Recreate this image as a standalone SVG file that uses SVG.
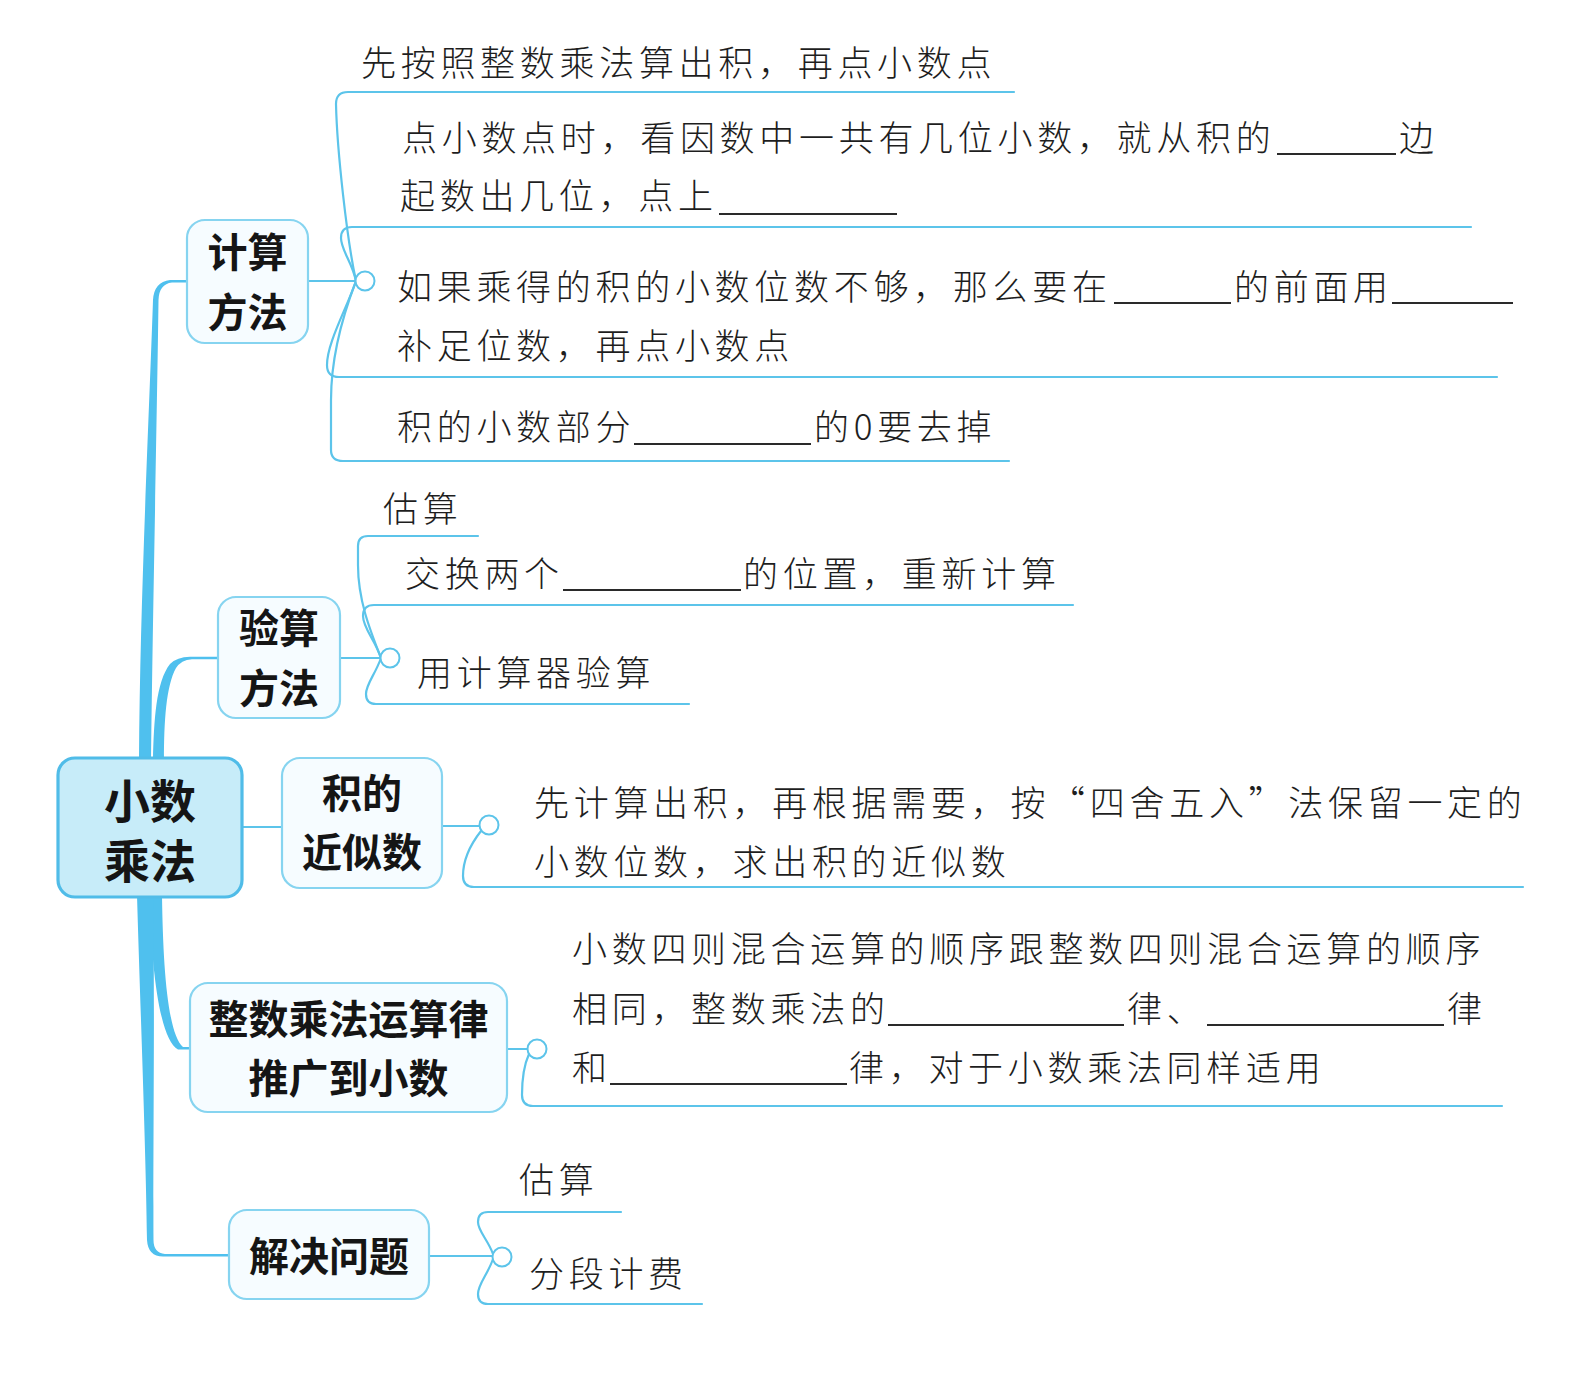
<svg xmlns="http://www.w3.org/2000/svg" width="1595" height="1397" viewBox="0 0 1595 1397">
<style>
.bg{fill:#ffffff}
.trunk{fill:#4fc0ee;stroke:none}
.conn{fill:none;stroke:#5cc4ea;stroke-width:2.2;stroke-linecap:round}
.dot{fill:#ffffff;stroke:#5cc4ea;stroke-width:2}
.box{fill:#f6fcff;stroke:#86d4f0;stroke-width:2.2}
.root{fill:#c7ecf9;stroke:#50bce8;stroke-width:3.2}
.n{font-family:"Noto Sans CJK SC","Noto Sans CJK TC",sans-serif;font-weight:700;font-size:40px;fill:#151515;text-anchor:middle}
.rt{font-size:46px}
.t{font-family:"Noto Sans CJK SC","Noto Sans CJK TC",sans-serif;font-weight:300;font-size:35px;letter-spacing:4.7px;fill:#1e1e1e}
.blank{stroke:#2a2a2a;stroke-width:1.8}
</style>
<rect class="bg" x="0" y="0" width="1595" height="1397"/>

<g id="connectors">
  <path class="trunk" d="M139 760 C140 600 149 420 153 300 Q154 282 170 280 L187 280 L187 282.5 L172 282.5 Q159 284 158.5 300 C157 420 153 600 151 760 Z"/>
  <path class="trunk" d="M153 760 C154 720 156 682 170 664 Q177 657 190 656.8 L218 656.8 L218 659.2 L192 659.2 Q181 660 176 668 C166 686 164 722 164 760 Z"/>
  <path class="trunk" d="M150 895 C151 970 160 1040 178 1049.5 L190 1049.5 L190 1047 L183 1047 C168 1034 163 970 162 895 Z"/>
  <path class="trunk" d="M137 895 C140 1000 146 1150 147 1240 Q148 1256.5 163 1256.5 L230 1256.5 L230 1254 L165 1254 Q153.5 1253 153.5 1240 C153 1150 155 1000 153 895 Z"/>
  <line class="conn" x1="242" y1="827" x2="282" y2="827"/>

  <line class="conn" x1="308" y1="281" x2="355.5" y2="281"/>
  <path class="conn" d="M356 281 C347 240 337 150 336 104 Q336 92 348 92 L1014 92"/>
  <path class="conn" d="M356 281 C352 262 341 250 341 238 Q341 227 352 227 L1471 227"/>
  <path class="conn" d="M356 281 C346 310 327 343 327 365 Q327 377 339 377 L1497 377"/>
  <path class="conn" d="M356 281 C341 320 331 360 331 400 L331 450 Q331 461 343 461 L1009 461"/>
  <circle class="dot" cx="365" cy="281" r="9.5"/>

  <line class="conn" x1="340" y1="658" x2="380.5" y2="658"/>
  <path class="conn" d="M381 658 C370 630 358 600 358 565 L358 546 Q358 536 368 536 L478 536"/>
  <path class="conn" d="M381 658 C375 640 363 628 363 616 Q363 605 374 605 L1073 605"/>
  <path class="conn" d="M381 658 C375 675 366 684 366 694 Q366 704 376 704 L689 704"/>
  <circle class="dot" cx="390" cy="658" r="9.5"/>

  <line class="conn" x1="442" y1="826" x2="479.5" y2="826"/>
  <path class="conn" d="M481 831 C470 845 463 860 463 876 Q463 887 474 887 L1523 887"/>
  <circle class="dot" cx="489" cy="825" r="9.5"/>

  <line class="conn" x1="507" y1="1049" x2="527.5" y2="1049"/>
  <path class="conn" d="M529 1054 C524 1065 522 1080 522 1095 Q522 1106 533 1106 L1502 1106"/>
  <circle class="dot" cx="537" cy="1049" r="9.5"/>

  <line class="conn" x1="429" y1="1256" x2="492.5" y2="1256"/>
  <path class="conn" d="M493 1254 C488 1240 478 1231 478 1222 Q478 1212 488 1212 L621 1212"/>
  <path class="conn" d="M493 1259 C488 1274 478 1284 478 1294 Q478 1304 488 1304 L702 1304"/>
  <circle class="dot" cx="502" cy="1257" r="9.5"/>
</g>

<g id="node-root">
  <rect class="root" x="58" y="758" width="184" height="139" rx="17"/>
  <text class="n rt" x="150" y="818">小数</text>
  <text class="n rt" x="150" y="878">乘法</text>
</g>

<g id="node-jisuan">
  <rect class="box" x="187" y="220" width="121" height="123" rx="18"/>
  <text class="n" x="247.5" y="267">计算</text>
  <text class="n" x="247.5" y="327">方法</text>
</g>

<g id="node-yansuan">
  <rect class="box" x="218" y="597" width="122" height="121" rx="18"/>
  <text class="n" x="279" y="643">验算</text>
  <text class="n" x="279" y="703">方法</text>
</g>

<g id="node-jinsi">
  <rect class="box" x="282" y="758" width="160" height="130" rx="18"/>
  <text class="n" x="362" y="808">积的</text>
  <text class="n" x="362" y="867">近似数</text>
</g>

<g id="node-yunsuanlv">
  <rect class="box" x="190" y="983" width="317" height="129" rx="18"/>
  <text class="n" x="348.5" y="1034">整数乘法运算律</text>
  <text class="n" x="348.5" y="1093">推广到小数</text>
</g>

<g id="node-jiejue">
  <rect class="box" x="229" y="1210" width="200" height="89" rx="18"/>
  <text class="n" x="329" y="1271">解决问题</text>
</g>

<g id="leaf-a1">
  <text class="t" x="361" y="76">先按照整数乘法算出积，再点小数点</text>
</g>
<g id="leaf-a2">
  <text class="t" x="402" y="151">点小数点时，看因数中一共有几位小数，就从积的</text>
  <line class="blank" x1="1277" y1="154" x2="1396" y2="154"/>
  <text class="t" x="1399" y="151">边</text>
  <text class="t" x="400" y="209">起数出几位，点上</text>
  <line class="blank" x1="719" y1="214" x2="897" y2="214"/>
</g>
<g id="leaf-a3">
  <text class="t" x="397" y="300">如果乘得的积的小数位数不够，那么要在</text>
  <line class="blank" x1="1114" y1="303" x2="1231" y2="303"/>
  <text class="t" x="1234" y="300">的前面用</text>
  <line class="blank" x1="1392" y1="303" x2="1513" y2="303"/>
  <text class="t" x="397" y="359">补足位数，再点小数点</text>
</g>
<g id="leaf-a4">
  <text class="t" x="397" y="440">积的小数部分</text>
  <line class="blank" x1="634" y1="444" x2="811" y2="444"/>
  <text class="t" x="814" y="440">的0要去掉</text>
</g>

<g id="leaf-b1">
  <text class="t" x="383" y="522">估算</text>
</g>
<g id="leaf-b2">
  <text class="t" x="405" y="587">交换两个</text>
  <line class="blank" x1="563" y1="590" x2="741" y2="590"/>
  <text class="t" x="743" y="587">的位置，重新计算</text>
</g>
<g id="leaf-b3">
  <text class="t" x="417" y="686">用计算器验算</text>
</g>

<g id="leaf-c1">
  <text class="t" x="534" y="816">先计算出积，再根据需要，按“四舍五入”法保留一定的</text>
  <text class="t" x="534" y="875">小数位数，求出积的近似数</text>
</g>

<g id="leaf-d1">
  <text class="t" x="572" y="962">小数四则混合运算的顺序跟整数四则混合运算的顺序</text>
  <text class="t" x="572" y="1022">相同，整数乘法的</text>
  <line class="blank" x1="888" y1="1025" x2="1124" y2="1025"/>
  <text class="t" x="1127" y="1022">律、</text>
  <line class="blank" x1="1207" y1="1025" x2="1444" y2="1025"/>
  <text class="t" x="1447" y="1022">律</text>
  <text class="t" x="572" y="1081">和</text>
  <line class="blank" x1="610" y1="1084" x2="847" y2="1084"/>
  <text class="t" x="849" y="1081">律，对于小数乘法同样适用</text>
</g>

<g id="leaf-e1">
  <text class="t" x="519" y="1193">估算</text>
</g>
<g id="leaf-e2">
  <text class="t" x="529" y="1287">分段计费</text>
</g>
</svg>
